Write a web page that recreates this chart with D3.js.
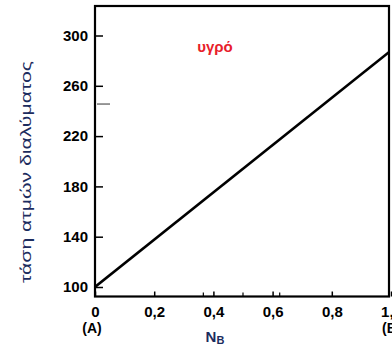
<!DOCTYPE html>
<html>
<head>
<meta charset="utf-8">
<script src="https://cdn.jsdelivr.net/npm/d3@7"></script>
<style>
  body { margin: 0; background: #fff; }
  svg { display: block; }
</style>
</head>
<body>
<div id="chart"></div>
<script>
// data
var nB = [0, 1];
var pressure = [100, 288];
var yTicks = [100, 140, 180, 220, 260, 300];
var xTicks = [0, 0.2, 0.4, 0.6, 0.8, 1];
var xTickLabels = ["0", "0,2", "0,4", "0,6", "0,8", "1,0"];
var xMinor = [0.366, 0.5, 0.624];
var yMinor = [245.5];

var width = 392, height = 345;
var padLeft = 95, padRight = 389, padTop = 6, padBottom = 296.5;

var svg = d3.select("#chart").append("svg")
  .attr("width", width)
  .attr("height", height);

var x = d3.scaleLinear().domain([0, 1]).range([padLeft, 391]);
var y = d3.scaleLinear().domain([100, 300]).range([287, 35.5]);

// y axis, ticks pointing inward
var yAxis = d3.axisLeft(y)
  .tickValues(yTicks)
  .tickSize(-8)
  .tickPadding(7)
  .tickFormat(d3.format("d"));

var gy = svg.append("g")
  .attr("transform", "translate(" + padLeft + ",0)")
  .call(yAxis);
gy.select(".domain").remove();
gy.selectAll("line").attr("stroke", "#000").attr("stroke-width", 1.5);
gy.selectAll("text")
  .attr("font-family", "Liberation Sans, Arial, sans-serif")
  .attr("font-size", 15)
  .attr("font-weight", "bold")
  .attr("fill", "#000");

var xAxis = d3.axisBottom(x)
  .tickValues(xTicks)
  .tickSize(-5)
  .tickPadding(10)
  .tickFormat(function (d, i) { return xTickLabels[i]; });

var gx = svg.append("g")
  .attr("transform", "translate(0," + padBottom + ")")
  .call(xAxis);
gx.select(".domain").remove();
gx.selectAll("line").attr("stroke", "#000").attr("stroke-width", 1.5);
gx.selectAll("text")
  .attr("font-family", "Liberation Sans, Arial, sans-serif")
  .attr("font-size", 15)
  .attr("font-weight", "bold")
  .attr("fill", "#000");

// stray small ticks
svg.selectAll("line.xminor")
  .data(xMinor)
  .enter().append("line")
  .attr("class", "xminor")
  .attr("x1", d => x(d)).attr("x2", d => x(d))
  .attr("y1", padBottom).attr("y2", padBottom - 4)
  .attr("stroke", "#000").attr("stroke-width", 1.2);

svg.selectAll("line.yminor")
  .data(yMinor)
  .enter().append("line")
  .attr("class", "yminor")
  .attr("x1", padLeft + 2).attr("x2", padLeft + 15)
  .attr("y1", d => y(d)).attr("y2", d => y(d))
  .attr("stroke", "#333").attr("stroke-width", 1);

// frame
svg.append("rect")
  .attr("x", padLeft).attr("y", padTop)
  .attr("width", padRight - padLeft).attr("height", padBottom - padTop)
  .attr("fill", "none")
  .attr("stroke", "#000")
  .attr("stroke-width", 2.2);

// the line
svg.append("clipPath").attr("id", "plotclip")
  .append("rect")
  .attr("x", padLeft).attr("y", padTop)
  .attr("width", padRight - padLeft).attr("height", padBottom - padTop);

var line = d3.line()
  .x(d => x(d[0]))
  .y(d => y(d[1]));

svg.append("path")
  .datum(nB.map((d, i) => [d, pressure[i]]))
  .attr("clip-path", "url(#plotclip)")
  .attr("d", line)
  .attr("fill", "none")
  .attr("stroke", "#000")
  .attr("stroke-width", 2.6);

// texts
svg.append("text")
  .attr("x", 215).attr("y", 52)
  .attr("text-anchor", "middle")
  .attr("font-family", "Liberation Sans, Arial, sans-serif")
  .attr("font-size", 15)
  .attr("font-weight", "bold")
  .attr("fill", "#e8202a")
  .text("υγρό");

svg.append("text")
  .attr("x", 92).attr("y", 333)
  .attr("text-anchor", "middle")
  .attr("font-family", "Liberation Sans, Arial, sans-serif")
  .attr("font-size", 14)
  .attr("font-weight", "bold")
  .text("(A)");

svg.append("text")
  .attr("x", 382).attr("y", 333)
  .attr("font-family", "Liberation Sans, Arial, sans-serif")
  .attr("font-size", 14)
  .attr("font-weight", "bold")
  .text("(B)");

var nLabel = svg.append("text")
  .attr("x", 215).attr("y", 342)
  .attr("text-anchor", "middle")
  .attr("font-family", "Liberation Sans, Arial, sans-serif")
  .attr("font-weight", "bold")
  .attr("fill", "#1c2c5e");
nLabel.append("tspan").attr("font-size", 15).text("N");
nLabel.append("tspan").attr("font-size", 11).attr("dy", 2).text("B");

svg.append("text")
  .attr("transform", "translate(31,172) rotate(-90)")
  .attr("text-anchor", "middle")
  .attr("font-family", "Liberation Sans, Arial, sans-serif")
  .attr("font-size", 15)
  .attr("textLength", 222)
  .attr("lengthAdjust", "spacingAndGlyphs")
  .attr("fill", "#1c2c5e")
  .text("τάση ατμών διαλύματος");
</script>
</body>
</html>
